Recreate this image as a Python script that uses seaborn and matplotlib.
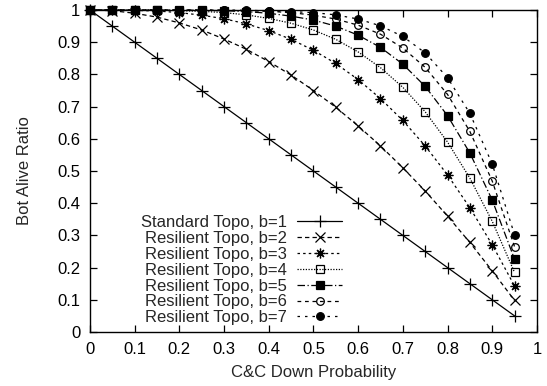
#!/usr/bin/env python3
"""Bot alive ratio vs C&C down probability."""
import matplotlib
matplotlib.use("Agg")
import matplotlib.pyplot as plt
import pandas as pd
import seaborn as sns

x = [0, 0.05, 0.1, 0.15, 0.2, 0.25, 0.3, 0.35, 0.4, 0.45,
     0.5, 0.55, 0.6, 0.65, 0.7, 0.75, 0.8, 0.85, 0.9, 0.95]

b1 = [1, .95, .9, .85, .8, .75, .7, .65, .6, .55,
      .5, .45, .4, .35, .3, .25, .2, .15, .1, .05]
b2 = [1, .998, .99, .978, .96, .938, .91, .878, .84, .798,
      .75, .698, .64, .578, .51, .438, .36, .278, .19, .098]
b3 = [1, 1, .999, .997, .992, .984, .973, .957, .936, .909,
      .875, .834, .784, .725, .657, .578, .488, .386, .271, .143]
b4 = [1, 1, 1, 1, .998, .996, .992, .985, .974, .959,
      .938, .909, .870, .821, .760, .684, .590, .478, .344, .185]
b5 = [1, 1, 1, 1, 1, .999, .998, .995, .990, .981,
      .969, .950, .922, .884, .832, .763, .672, .556, .410, .226]
b6 = [1, 1, 1, 1, 1, 1, .999, .998, .996, .992,
      .984, .972, .953, .925, .882, .822, .738, .623, .469, .265]
b7 = [1, 1, 1, 1, 1, 1, 1, .999, .998, .995,
      .992, .985, .972, .951, .918, .867, .790, .679, .522, .302]

labels = ["Standard Topo, b=1"] + [f"Resilient Topo, b={b}" for b in range(2, 8)]
series = [b1, b2, b3, b4, b5, b6, b7]

# gnuplot-like styles: (marker, linestyle, markerfacecolor, markersize)
styles = [
    ("+", "-", "black", 8),
    ("x", (0, (3.5, 2.5)), "black", 6.5),
    ((8, 2, 0), (0, (2, 2.5)), "black", 7),
    ("s", (0, (1, 1.2)), "none", 5.5),
    ("s", (0, (6, 2, 1, 2)), "black", 5.5),
    ("o", (0, (3, 3)), "none", 5.5),
    ("o", (0, (2, 4)), "black", 5.5),
]

sns.set_theme(style="ticks")
plt.rcParams["font.family"] = ["Liberation Sans", "DejaVu Sans"]
plt.rcParams["font.size"] = 12

fig = plt.figure(figsize=(5.47, 3.86), dpi=100)
ax = fig.add_axes([0.1645, 0.14, 0.817, 0.834])

for lab, ys, (mk, ls, mfc, ms) in zip(labels, series, styles):
    df = pd.DataFrame({"p": x, "alive": ys})
    sns.lineplot(data=df, x="p", y="alive", ax=ax, color="black", linewidth=0.9,
                 linestyle=ls, marker=mk, markersize=ms, markerfacecolor=mfc,
                 markeredgecolor="black", markeredgewidth=0.9, label=lab,
                 clip_on=False, zorder=3)

ax.set_xlim(0, 1)
ax.set_ylim(0, 1)
ticks = [i / 10 for i in range(11)]
ticklabels = ["0"] + [f"{t:.1f}" for t in ticks[1:-1]] + ["1"]
ax.set_xticks(ticks)
ax.set_xticklabels(ticklabels)
ax.set_yticks(ticks)
ax.set_yticklabels(ticklabels)
ax.tick_params(direction="in", length=5, width=0.9, top=True, right=True,
               labelsize=12, colors="black", pad=7)
for s in ax.spines.values():
    s.set_linewidth(1.0)
    s.set_color("black")
ax.set_xlabel("C&C Down Probability", fontsize=12, labelpad=6)
ax.set_ylabel("Bot Alive Ratio", fontsize=12, labelpad=18)

ax.legend(loc="lower right", bbox_to_anchor=(0.579, 0.0), frameon=False,
          markerfirst=False, fontsize=12, handlelength=2.7, labelspacing=0.05,
          handletextpad=0.6, borderaxespad=0.2, borderpad=0.2)

fig.savefig("out.png", dpi=100)
